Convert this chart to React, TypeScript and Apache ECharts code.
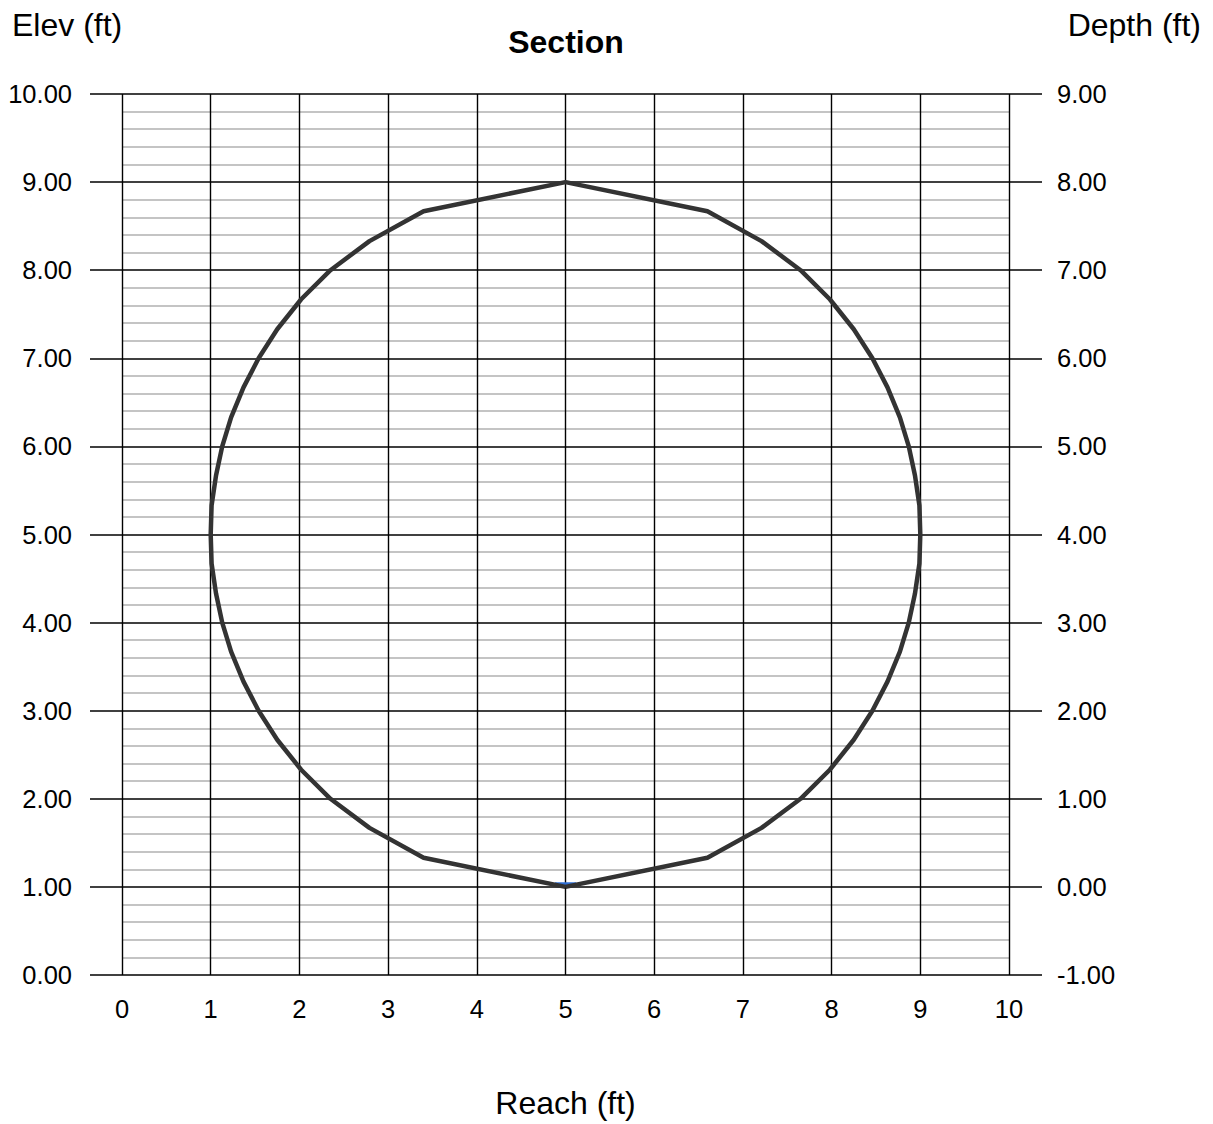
import React, { useEffect, useRef } from "react";
import * as echarts from "echarts";

const reach = [
  5.0, 3.4, 2.79, 2.35, 2.02, 1.75, 1.54, 1.37, 1.23, 1.13, 1.06, 1.01, 1.0,
  1.01, 1.06, 1.13, 1.23, 1.37, 1.54, 1.75, 2.02, 2.35, 2.79, 3.4, 5.0,
  6.6, 7.21, 7.65, 7.98, 8.25, 8.46, 8.63, 8.77, 8.87, 8.94, 8.99, 9.0,
  8.99, 8.94, 8.87, 8.77, 8.63, 8.46, 8.25, 7.98, 7.65, 7.21, 6.6, 5.0,
];
const elev = [
  1.0, 1.33, 1.67, 2.0, 2.33, 2.67, 3.0, 3.33, 3.67, 4.0, 4.33, 4.67, 5.0,
  5.33, 5.67, 6.0, 6.33, 6.67, 7.0, 7.33, 7.67, 8.0, 8.33, 8.67, 9.0,
  8.67, 8.33, 8.0, 7.67, 7.33, 7.0, 6.67, 6.33, 6.0, 5.67, 5.33, 5.0,
  4.67, 4.33, 4.0, 3.67, 3.33, 3.0, 2.67, 2.33, 2.0, 1.67, 1.33, 1.0,
];
const waterReach = [4.88, 5.12];
const waterElev = [1.03, 1.03];

const xTicks = [0, 10, 1];
const elevRange = [0, 10, 1];
const depthRange = [-1, 9, 1];

const FONT = "'Liberation Sans', Arial, sans-serif";

export default function App() {
  const ref = useRef<HTMLDivElement>(null);
  useEffect(() => {
    if (!ref.current) return;
    const chart = echarts.init(ref.current, undefined, { renderer: "svg" });
    const section = reach.map((r, i) => [r, elev[i]]);
    const water = waterReach.map((r, i) => [r, waterElev[i]]);
    chart.setOption({
      animation: false,
      backgroundColor: "#ffffff",
      textStyle: { fontFamily: FONT },
      grid: { left: 122, right: 204, top: 94, bottom: 143, containLabel: false },
      graphic: [
        {
          type: "text",
          x: 566,
          y: 42,
          style: {
            text: "Section",
            fontSize: 32,
            fontWeight: "bold",
            fontFamily: FONT,
            fill: "#000",
            align: "center",
            verticalAlign: "middle",
          },
        },
        {
          type: "text",
          x: 12,
          y: 25,
          style: { text: "Elev (ft)", fontSize: 32, fontFamily: FONT, fill: "#000", verticalAlign: "middle" },
        },
        {
          type: "text",
          x: 1201,
          y: 25,
          style: { text: "Depth (ft)", fontSize: 32, fontFamily: FONT, fill: "#000", align: "right", verticalAlign: "middle" },
        },
      ],
      xAxis: {
        type: "value",
        min: xTicks[0],
        max: xTicks[1],
        interval: xTicks[2],
        name: "Reach (ft)",
        nameLocation: "middle",
        nameGap: 128,
        nameTextStyle: { fontSize: 32, fontFamily: FONT, color: "#000", verticalAlign: "middle" },
        axisLine: { show: false },
        axisTick: { show: false },
        axisLabel: { fontSize: 25.5, fontFamily: FONT, color: "#000", margin: 21 },
        splitLine: { show: true, lineStyle: { color: "#000", width: 1.4 } },
        z: 3,
      },
      yAxis: [
        {
          type: "value",
          min: elevRange[0],
          max: elevRange[1],
          interval: elevRange[2],
          position: "left",
          axisLine: { show: false },
          axisTick: { show: true, length: 32, lineStyle: { color: "#000", width: 1.5 } },
          axisLabel: {
            fontSize: 25.5,
            fontFamily: FONT,
            color: "#000",
            margin: 50,
            formatter: (v: number) => v.toFixed(2),
          },
          splitLine: { show: true, lineStyle: { color: "#000", width: 1.5 } },
          minorTick: { show: false, splitNumber: 5 },
          minorSplitLine: { show: true, lineStyle: { color: "#c4c4c4", width: 2 } },
          z: 1,
        },
        {
          type: "value",
          min: depthRange[0],
          max: depthRange[1],
          interval: depthRange[2],
          position: "right",
          axisLine: { show: false },
          axisTick: { show: true, length: 33, lineStyle: { color: "#000", width: 1.5 } },
          axisLabel: {
            fontSize: 25.5,
            fontFamily: FONT,
            color: "#000",
            margin: 48,
            formatter: (v: number) => v.toFixed(2),
          },
          splitLine: { show: false },
        },
      ],
      series: [
        {
          type: "line",
          data: water,
          showSymbol: false,
          lineStyle: { color: "#2f6fd6", width: 4 },
          z: 4,
        },
        {
          type: "line",
          data: section,
          showSymbol: false,
          lineStyle: { color: "#333333", width: 4.5 },
          z: 5,
        },
      ],
    });
    return () => chart.dispose();
  }, []);
  return (
    <div
      ref={ref}
      style={{ position: "absolute", left: 0, top: 0, width: 1213, height: 1124 }}
    />
  );
}
